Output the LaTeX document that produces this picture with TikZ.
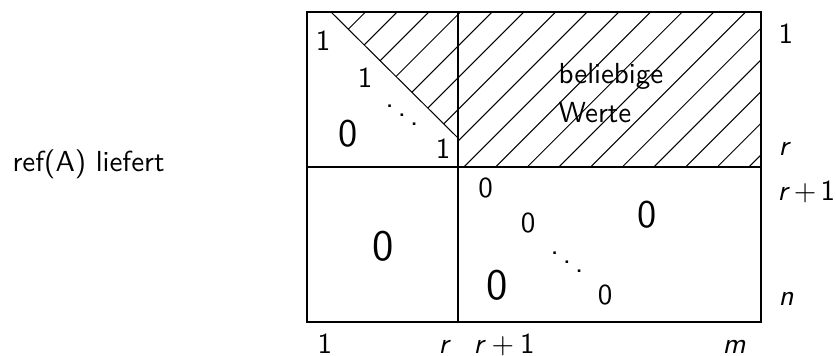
\documentclass[tikz,border=0pt]{standalone}
\usepackage{fontspec}
\begin{document}
\begin{tikzpicture}[x=0.345pt,y=-0.345pt,
  every node/.style={font=\sffamily, inner sep=0pt},
  frame/.style={line width=0.75pt},
  hatch/.style={line width=0.35pt},
  bigzero/.style={font=\sffamily\fontsize{13.5}{16}\selectfont},
  hugezero/.style={font=\sffamily\fontsize{15}{18}\selectfont},
  dotsstyle/.style={font=\sffamily\fontsize{11}{13}\selectfont, anchor=base},
  lab/.style={anchor=base west}]
\useasboundingbox (0,0) rectangle (836,355);
% hatching
\begin{scope}
  \clip (331,12) -- (761,12) -- (761,167) -- (458,167) -- (458,138) -- cycle;
  \foreach \k in {0,...,18} {
    \draw[hatch] ({377.5+31.67*\k-250},250) -- ({377.5+31.67*\k+20},-20);
  }
\end{scope}
\draw[hatch] (331,12) -- (458,138);
% frame
\draw[frame] (307,12) rectangle (761,322);
\draw[frame] (458,12) -- (458,322);
\draw[frame] (307,167) -- (761,167);
% left label
\node[lab] (ref) at (12,171) {ref(A) liefert};
% upper left block
\node (one1) at (323,41) {1};
\node (one2) at (365,78) {1};
\node[dotsstyle] (dd1) at (402,128) {$\ddots$};
\node (one3) at (443,149) {1};
\node[bigzero] (z1) at (348,134) {0};
% upper right block
\node[lab] (bw1) at (558,83) {beliebige};
\node[lab] (bw2) at (558,122) {Werte};
% lower left block
\node[hugezero] (z2) at (383,246) {0};
% lower right block
\node (z3) at (485.5,187.5) {0};
\node (z4) at (528,223) {0};
\node[dotsstyle] (dd2) at (567,275) {$\ddots$};
\node (z5) at (605,295) {0};
\node[hugezero] (z6) at (497,285) {0};
\node[bigzero] (z7) at (647,215) {0};
% right labels
\node[lab] (r1) at (778,43) {1};
\node[lab] (r2) at (778,155) {\textit{r}};
\node[lab] (r3) at (777,200) {\textit{r}\hspace{0.14em}$+$\hspace{0.14em}1};
\node[lab] (r4) at (778,305) {\textit{n}};
% bottom labels
\node[lab] (b1) at (317,353) {1};
\node[lab] (b2) at (438,353) {\textit{r}};
\node[lab] (b3) at (473,353) {\textit{r}\hspace{0.2em}$+$\hspace{0.2em}1};
\node[lab] (b4) at (722,353) {\textit{m}};
\end{tikzpicture}
\end{document}
